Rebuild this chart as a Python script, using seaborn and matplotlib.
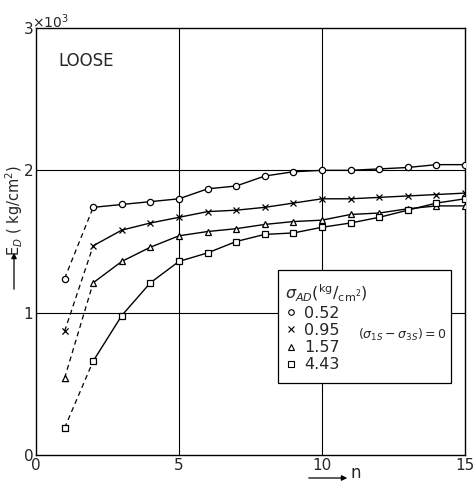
import numpy as np
import pandas as pd
import seaborn as sns
import matplotlib
matplotlib.use("Agg")
import matplotlib.pyplot as plt
from matplotlib.lines import Line2D
from matplotlib.patches import Rectangle

# ---- data (E_D in units of 10^3 kg/cm^2) ----
n_cycles = list(range(1, 16))
ed_052 = [1.24, 1.74, 1.76, 1.78, 1.80, 1.87, 1.89, 1.96, 1.99, 2.00, 2.00, 2.01, 2.02, 2.04, 2.04]
ed_095 = [0.87, 1.47, 1.58, 1.63, 1.67, 1.71, 1.72, 1.74, 1.77, 1.80, 1.80, 1.81, 1.82, 1.83, 1.84]
ed_157 = [0.54, 1.21, 1.36, 1.46, 1.54, 1.57, 1.59, 1.62, 1.64, 1.65, 1.69, 1.70, 1.73, 1.75, 1.75]
ed_443 = [0.19, 0.66, 0.98, 1.21, 1.36, 1.42, 1.50, 1.55, 1.56, 1.60, 1.63, 1.67, 1.72, 1.77, 1.80]
series_labels = ["0.52", "0.95", "1.57", "4.43"]
series_values = [ed_052, ed_095, ed_157, ed_443]
markers = ["o", "x", "^", "s"]
x_ticks = [0, 5, 10, 15]
y_ticks = [0, 1, 2, 3]

sns.set_style("white")
plt.rcParams["font.family"] = ["DejaVu Sans"]
plt.rcParams["mathtext.fontset"] = "dejavusans"

rows = []
for lab, vals in zip(series_labels, series_values):
    for n, v in zip(n_cycles, vals):
        rows.append({"n": n, "ED": v, "sigma": lab})
df = pd.DataFrame(rows)

fig = plt.figure(figsize=(4.76, 4.83), dpi=100)
ax = fig.add_axes([36 / 476, 1 - 455 / 483, (465 - 36) / 476, (455 - 28) / 483])

for lab, mk in zip(series_labels, markers):
    sub = df[df["sigma"] == lab]
    solid = sub[sub["n"] >= 2]
    dashed = sub[sub["n"] <= 2]
    sns.lineplot(data=solid, x="n", y="ED", ax=ax, color="black", lw=1.0,
                 marker=mk, markersize=4.5 if mk != "x" else 4,
                 markerfacecolor="white" if mk != "x" else "black",
                 markeredgecolor="black", markeredgewidth=0.9, zorder=5)
    sns.lineplot(data=dashed, x="n", y="ED", ax=ax, color="black", lw=0.9,
                 linestyle=(0, (4, 3)), zorder=4)
    first = sub[sub["n"] == 1]
    sns.scatterplot(data=first, x="n", y="ED", ax=ax, marker=mk, s=20,
                    facecolor="white" if mk != "x" else "black",
                    edgecolor="black", linewidth=0.9, zorder=6)

ax.set_xlim(0, 15)
ax.set_ylim(0, 3)
ax.set_xticks(x_ticks)
ax.set_yticks(y_ticks)
ax.set_xticklabels([str(t) for t in x_ticks], fontsize=11)
ax.set_yticklabels([str(t) for t in y_ticks], fontsize=11)
ax.tick_params(axis="both", length=0, pad=2)
ax.set_xlabel("")
ax.set_ylabel("")
for v in [5, 10]:
    ax.axvline(v, color="black", lw=0.8, zorder=1)
for v in [1, 2]:
    ax.axhline(v, color="black", lw=0.8, zorder=1)
for sp in ax.spines.values():
    sp.set_color("black")
    sp.set_linewidth(1.0)

ax.text(0.77, 2.77, "LOOSE", fontsize=12, ha="left", va="center")

# legend box
ax.add_patch(Rectangle((8.46, 0.505), 6.04, 0.795, facecolor="white",
                       edgecolor="black", lw=0.9, zorder=7))
handles = [Line2D([], [], marker=mk, linestyle="none", color="black",
                  markerfacecolor="white" if mk != "x" else "black",
                  markersize=4, markeredgewidth=0.8) for mk in markers]
leg = ax.legend(handles, series_labels,
                title=r"$\sigma_{AD}$" + r"$\mathregular{(^{kg}/_{cm^2})}$",
                loc="upper left", bbox_to_anchor=(8.72, 1.21),
                bbox_transform=ax.transData, frameon=False, fontsize=11.5,
                title_fontsize=11.5, handlelength=0.7, handletextpad=0.45,
                labelspacing=0.13, borderpad=0, borderaxespad=0,
                alignment="left")
leg.set_zorder(8)
ax.text(11.26, 0.84, r"$(\sigma_{1S}-\sigma_{3S})=0$", fontsize=9,
        ha="left", va="center", zorder=8)

# axis labels
fig.text(32 / 476, 1 - 22 / 483, r"$\times10^3$", fontsize=10, ha="left", va="center")
fig.text(14 / 476, 1 - 210 / 483, r"E$_D$ ( kg/cm$^2$)", rotation=90,
         fontsize=10.5, ha="center", va="center")
ax.annotate("", xy=(14 / 476, 1 - 250 / 483), xytext=(14 / 476, 1 - 292 / 483),
            xycoords="figure fraction", textcoords="figure fraction",
            arrowprops=dict(arrowstyle="-|>", color="black", lw=0.9,
                            mutation_scale=8))
ax.annotate("", xy=(350 / 476, 1 - 478 / 483), xytext=(306 / 476, 1 - 478 / 483),
            xycoords="figure fraction", textcoords="figure fraction",
            arrowprops=dict(arrowstyle="-|>", color="black", lw=0.9,
                            mutation_scale=8))
fig.text(350 / 476, 0.002, "n", fontsize=12, ha="left", va="bottom")

fig.savefig("out.png", dpi=100)
